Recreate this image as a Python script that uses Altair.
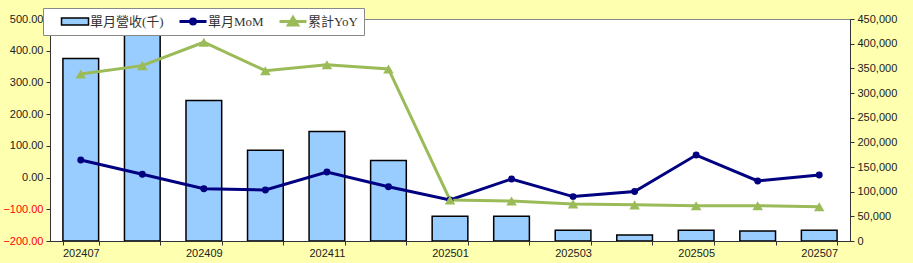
import altair as alt
import pandas as pd

months = ["202407", "202408", "202409", "202410", "202411", "202412", "202501",
          "202502", "202503", "202504", "202505", "202506", "202507"]
revenue = [370000, 455000, 285000, 184000, 222000, 163000, 50000,
           50000, 21600, 12000, 21600, 20200, 21600]
mom = [55.5, 10.4, -35.0, -39.0, 17.7, -28.7, -70.6,
       -4.4, -60.0, -44.0, 71.0, -10.7, 8.2]
yoy = [326.7, 352.9, 426.7, 337.0, 356.0, 342.5, -70.6,
       -73.8, -83.0, -86.0, -88.6, -88.6, -91.8]

series_names = ["單月營收(千)", "單月MoM", "累計YoY"]
series_colors = ["#99CCFF", "#000080", "#9BBB59"]

bar_df = pd.DataFrame({"month": months, "value": revenue, "series": series_names[0]})
mom_df = pd.DataFrame({"month": months, "value": mom})
yoy_df = pd.DataFrame({"month": months, "value": yoy})

FONT = "Liberation Sans"
LEG_FONT = "Liberation Serif, Noto Sans CJK TC"

def pick(a, b, c):
    return f"(datum.value === '{series_names[0]}' ? {a} : (datum.value === '{series_names[1]}' ? {b} : {c}))"

legend = alt.Legend(
    orient="none", legendX=-7, legendY=-11, direction="horizontal", title=None,
    fillColor="white", strokeColor="#888888", padding=6, clipHeight=15,
    labelFont=LEG_FONT, labelFontSize=13, labelColor="#333333", labelOffset=0,
    symbolSize=1444, columnPadding=3, symbolOpacity=1,
    symbolType={"expr": pick("'M-0.42,-0.18H1V0.18H-0.42Z'",
                             "'M-0.42,0H1M0.42,0A0.13,0.13,0,1,1,0.16,0A0.13,0.13,0,1,1,0.42,0Z'",
                             "'M-0.42,0H1M0.29,-0.21L0.53,0.19H0.05Z'")},
    symbolStrokeColor={"expr": pick("'black'", "'#000080'", "'#9BBB59'")},
    symbolStrokeWidth={"expr": pick("1.5", "3", "3")},
)

x_axis = alt.Axis(title=None, labelExpr="(toNumber(datum.value) % 2 == 1) ? datum.value : ''",
                  labelAngle=0, labelOverlap=False, tickBand="extent", tickSize=4,
                  labelPadding=2, labelFont=FONT, labelFontSize=11, labelColor="#222222",
                  domainColor="#333333", tickColor="#333333")
x_scale = alt.Scale(paddingInner=0.42, paddingOuter=0.21)

bars = alt.Chart(bar_df).mark_bar(stroke="black", strokeWidth=1.5, clip=True).encode(
    x=alt.X("month:O", sort=months, scale=x_scale, axis=x_axis),
    y=alt.Y("value:Q", scale=alt.Scale(domain=[0, 450000], nice=False, zero=True),
            axis=alt.Axis(orient="right", title=None, values=list(range(0, 450001, 50000)),
                          format=",d", tickSize=4, labelPadding=3, labelFont=FONT,
                          labelFontSize=11, labelColor="#222222", domainColor="#333333",
                          tickColor="#333333", grid=False)),
    color=alt.Color("series:N", scale=alt.Scale(domain=series_names, range=series_colors),
                    legend=legend),
)

y_left = alt.Y("value:Q", scale=alt.Scale(domain=[-200, 500], nice=False, zero=False),
               axis=alt.Axis(title=None, values=list(range(-200, 501, 100)), format=".2f",
                             tickSize=4, labelPadding=3, labelFont=FONT, labelFontSize=11,
                             labelColor=alt.condition("datum.value < 0", alt.value("#FF0000"), alt.value("#222222")),
                             domainColor="#333333", tickColor="#333333", grid=False))
x_line = alt.X("month:O", sort=months, scale=x_scale, axis=x_axis, bandPosition=0.5)

line_mom = alt.Chart(mom_df).mark_line(strokeWidth=3, color=series_colors[1]).encode(x=x_line, y=y_left)
line_yoy = alt.Chart(yoy_df).mark_line(strokeWidth=3, color=series_colors[2]).encode(x=x_line, y=y_left)
pts_mom = alt.Chart(mom_df).mark_point(filled=True, shape="circle", size=48, opacity=1,
                                       color=series_colors[1]).encode(x=x_line, y=y_left)
pts_yoy = alt.Chart(yoy_df).mark_point(filled=True, shape="triangle-up", size=110, opacity=1,
                                       color=series_colors[2]).encode(x=x_line, y=y_left)

line_layer = alt.layer(line_mom, line_yoy, pts_mom, pts_yoy)

chart = alt.layer(bars, line_layer).resolve_scale(y="independent").properties(
    width=800, height=222,
    autosize=alt.AutoSizeParams(type="none"),
    padding={"left": 50, "top": 19, "right": 63, "bottom": 22},
    background="#FFFFB0",
).configure_view(stroke="#888888", fill="white", strokeWidth=1)

chart.save("out.html", embed_options={"renderer": "svg", "actions": False})
